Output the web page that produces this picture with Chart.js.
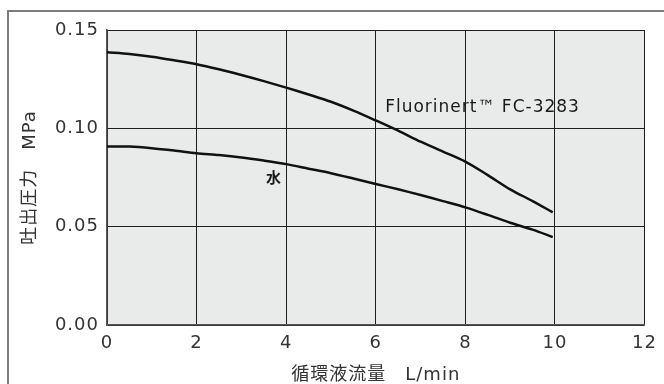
<!DOCTYPE html>
<html>
<head>
<meta charset="utf-8">
<script src="https://cdn.jsdelivr.net/npm/chart.js@4"></script>
<style>
	html, body { margin: 0; padding: 0; background: #fff; }
	#wrap { width: 664px; height: 384px; }
</style>
</head>
<body>
<div id="wrap"><canvas id="pump-canvas"></canvas></div>
<script>
// data

const flowRates = [0, 0.5, 1, 1.5, 2, 2.5, 3, 3.5, 4, 4.5, 5, 5.5, 6, 6.5, 7, 7.5, 8, 8.5, 9, 9.5, 9.95]
const fluorinertPressure = [0.1387, 0.1378, 0.1364, 0.1346, 0.1326, 0.1300, 0.1271, 0.1240, 0.1207, 0.1172, 0.1135, 0.1090, 0.1040, 0.0988, 0.0932, 0.0882, 0.0831, 0.0762, 0.0690, 0.0630, 0.0573]
const waterPressure = [0.0907, 0.0907, 0.0899, 0.0887, 0.0873, 0.0864, 0.0852, 0.0836, 0.0818, 0.0795, 0.0772, 0.0745, 0.0717, 0.0690, 0.0661, 0.0630, 0.0598, 0.0560, 0.0520, 0.0485, 0.0447]

const xTicks = [0, 2, 4, 6, 8, 10, 12]
const yTicks = [0, 0.05, 0.10, 0.15]

const seriesLabels = [
	{ text: "Fluorinert™ FC-3283", x: 6.21, y: 0.1108, font: "17px 'DejaVu Sans', sans-serif" },
	{ text: "水", x: 3.55, y: 0.0753, font: "bold 15px 'Noto Sans CJK JP', sans-serif" },
]

const xTitle = "循環液流量　L/min"
const yTitle = "吐出圧力　MPa"

// settings

const fontFamily = "'DejaVu Sans', 'Noto Sans CJK JP', sans-serif"
const textColor = "#333"

Chart.defaults.color = textColor
Chart.defaults.font.family = fontFamily

const toPoints = values => values.map((v, i) => ({ x: flowRates[i], y: v }))

// plugins

const backdrop = {
	id: "backdrop",
	beforeDraw(chart) {
		const { ctx, chartArea: a } = chart
		ctx.save()
		// outer frame
		ctx.strokeStyle = "#7d7d7d"
		ctx.lineWidth = 2
		ctx.beginPath()
		ctx.moveTo(664, 11)
		ctx.lineTo(8, 11)
		ctx.lineTo(8, 384)
		ctx.stroke()
		// plot background
		ctx.fillStyle = "#e9eaea"
		ctx.fillRect(a.left, a.top, a.right - a.left, a.bottom - a.top)
		ctx.restore()
		// the reference text is spaced out a little
		ctx.letterSpacing = "1px"
	},
	afterDraw(chart) {
		chart.ctx.letterSpacing = "0px"
	},
}

const curveLabels = {
	id: "curveLabels",
	afterDatasetsDraw(chart) {
		const { ctx, scales } = chart
		ctx.save()
		ctx.fillStyle = "#1a1a1a"
		ctx.textBaseline = "middle"
		seriesLabels.forEach(l => {
			ctx.font = l.font
			ctx.textAlign = "left"
			ctx.fillText(l.text, scales.x.getPixelForValue(l.x), scales.y.getPixelForValue(l.y))
		})
		ctx.restore()
	},
}

// chart

const config = {
	type: "line",
	data: {
		datasets: [
			{
				label: "Fluorinert FC-3283",
				data: toPoints(fluorinertPressure),
				borderColor: "#111",
				borderWidth: 2.5,
				pointRadius: 0,
				tension: 0.3,
			},
			{
				label: "水",
				data: toPoints(waterPressure),
				borderColor: "#111",
				borderWidth: 2.5,
				pointRadius: 0,
				tension: 0.3,
			},
		],
	},
	options: {
		responsive: true,
		maintainAspectRatio: false,
		animation: false,
		layout: {
			padding: { left: 0, right: 16, top: 30, bottom: 0 },
		},
		plugins: {
			legend: { display: false },
			tooltip: { enabled: false },
		},
		scales: {
			x: {
				type: "linear",
				min: 0,
				max: 12,
				afterFit: scale => { scale.height = 59 },
				afterBuildTicks: scale => { scale.ticks = xTicks.map(v => ({ value: v })) },
				grid: { color: "#1e1e1e", lineWidth: 1, drawTicks: false },
				border: { color: "#555", width: 1.5 },
				ticks: {
					padding: 8,
					font: { size: 18 },
					callback: v => String(v),
				},
				title: {
					display: true,
					text: xTitle,
					font: { size: 18, lineHeight: 1 },
					padding: { top: 0, bottom: 0 },
				},
			},
			y: {
				type: "linear",
				min: 0,
				max: 0.15,
				afterFit: scale => { scale.width = 107 },
				afterBuildTicks: scale => { scale.ticks = yTicks.map(v => ({ value: v })) },
				grid: { color: "#1e1e1e", lineWidth: 1, drawTicks: false },
				border: { color: "#555", width: 1.5 },
				ticks: {
					padding: 8,
					font: { size: 18 },
					callback: v => v.toFixed(2),
				},
				title: {
					display: true,
					text: yTitle,
					font: { size: 18, lineHeight: 1 },
					padding: { top: 21, bottom: 0 },
				},
			},
		},
	},
	plugins: [backdrop, curveLabels],
}

new Chart(document.querySelector("#pump-canvas"), config)
</script>
</body>
</html>
